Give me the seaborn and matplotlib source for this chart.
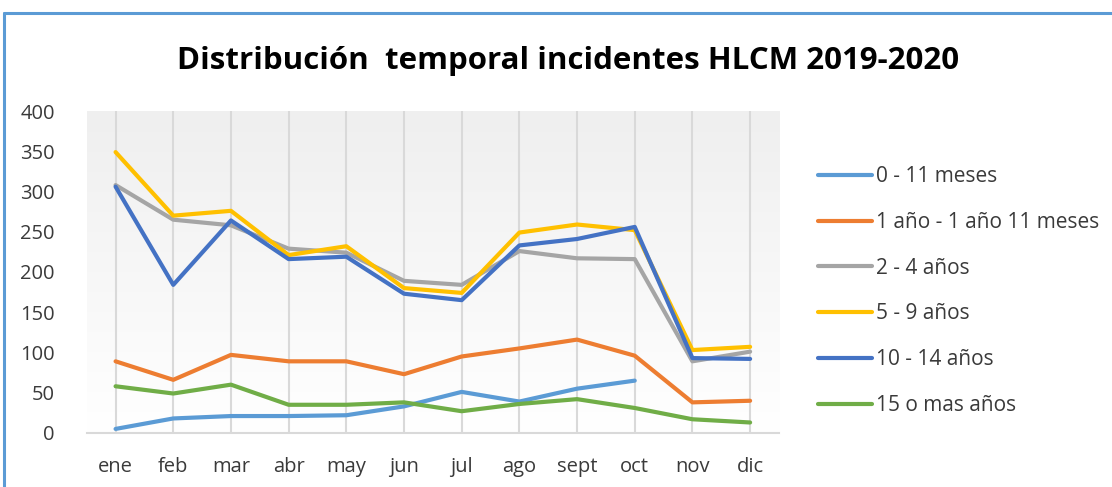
import numpy as np
import pandas as pd
import matplotlib
matplotlib.use("Agg")
import matplotlib.pyplot as plt
from matplotlib.lines import Line2D
import seaborn as sns

months = ["ene", "feb", "mar", "abr", "may", "jun",
          "jul", "ago", "sept", "oct", "nov", "dic"]

series_names = ["0 - 11 meses", "1 año - 1 año 11 meses", "2 - 4 años",
                "5 - 9 años", "10 - 14 años", "15 o mas años"]

v_0_11m  = [5, 18, 21, 21, 22, 33, 51, 39, 55, 65, None, None]
v_1a     = [89, 66, 97, 89, 89, 73, 95, 105, 116, 96, 38, 40]
v_2_4    = [308, 265, 258, 229, 224, 189, 184, 226, 217, 216, 89, 101]
v_5_9    = [349, 270, 276, 221, 232, 180, 174, 249, 259, 252, 103, 107]
v_10_14  = [306, 184, 264, 216, 219, 173, 165, 233, 241, 256, 93, 92]
v_15mas  = [58, 49, 60, 35, 35, 38, 27, 36, 42, 31, 17, 13]

colors = ["#5B9BD5", "#ED7D31", "#A5A5A5", "#FFC000", "#4472C4", "#70AD47"]

rows = []
for name, vals in zip(series_names, [v_0_11m, v_1a, v_2_4, v_5_9, v_10_14, v_15mas]):
    for i, v in enumerate(vals):
        if v is not None:
            rows.append({"mes": i, "valor": v, "grupo": name})
df = pd.DataFrame(rows)

sns.set_style("white")
plt.rcParams["font.family"] = ["Open Sans", "DejaVu Sans"]

fig = plt.figure(figsize=(11.12, 4.87), dpi=100)
ax = fig.add_axes([0.078, 0.111, 0.6225, 0.661])

# soft vertical gradient behind the plot
grad = np.linspace(1, 0, 256).reshape(-1, 1)
ax.imshow(grad, extent=[-0.5, 11.5, 0, 400], aspect="auto",
          cmap=matplotlib.colors.LinearSegmentedColormap.from_list(
              "g", ["#efefef", "#ffffff"]),
          vmin=0, vmax=1, zorder=0, origin="lower")

sns.lineplot(data=df, x="mes", y="valor", hue="grupo", hue_order=series_names,
             palette=colors, estimator=None, sort=False, linewidth=3.0,
             ax=ax, legend=True, zorder=3)

ax.set_xlim(-0.5, 11.5)
ax.set_ylim(0, 400)
ax.set_xticks(range(12))
ax.set_xticklabels(months)
ax.set_yticks(range(0, 401, 50))
ax.tick_params(axis="both", length=0, labelsize=14.5, colors="#3a3a3a")
ax.tick_params(axis="y", pad=23)
ax.tick_params(axis="x", pad=17)
ax.set_xlabel("")
ax.set_ylabel("")
ax.grid(axis="x", color="#d9d9d9", linewidth=1.5, zorder=1)
ax.grid(axis="y", visible=False)
for s in ["top", "right", "left"]:
    ax.spines[s].set_visible(False)
ax.spines["bottom"].set_color("#d9d9d9")
ax.spines["bottom"].set_linewidth(1.5)
ax.spines["bottom"].set_zorder(2)

handles, labels = ax.get_legend_handles_labels()
ax.get_legend().remove()
fig.legend(handles, labels, loc="upper left", bbox_to_anchor=(0.7356, 0.659),
           frameon=False, fontsize=15, handlelength=2.6, handletextpad=0.2,
           labelspacing=1.19, borderpad=0, borderaxespad=0,
           labelcolor="#3a3a3a")

fig.text(0.511, 0.874, "Distribución  temporal incidentes HLCM 2019-2020",
         ha="center", va="center", fontsize=22.5, fontweight="bold",
         color="#000000")

# chart frame (top and left edges visible)
fig.add_artist(Line2D([0.004, 1.0], [1 - 12.5 / 487, 1 - 12.5 / 487],
                      transform=fig.transFigure, color="#5B9BD5", linewidth=2.2))
fig.add_artist(Line2D([0.004, 0.004], [0.0, 1 - 12.5 / 487],
                      transform=fig.transFigure, color="#5B9BD5", linewidth=2.2))

fig.savefig("out.png", dpi=100)
